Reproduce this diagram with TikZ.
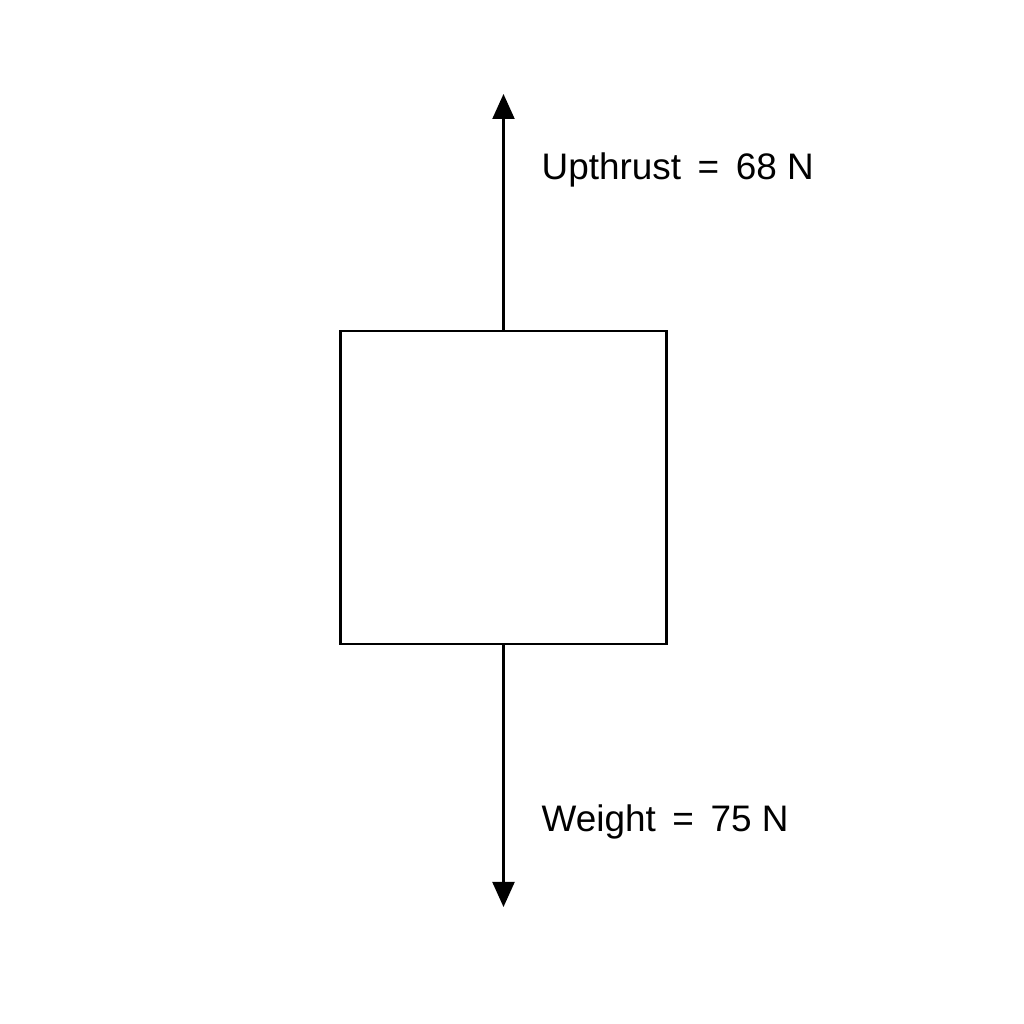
\documentclass[tikz,border=0pt]{standalone}
\usepackage{fontspec}
\setmainfont{Liberation Sans}
\usetikzlibrary{arrows.meta}

\begin{document}
\begin{tikzpicture}[force/.style={line width=0.6pt,-{Triangle[width=2.2mm,length=2.5mm]}},
    lbl/.style={anchor=base west,inner sep=0pt,font=\fontsize{10.5}{12}\selectfont}]
          \useasboundingbox (0,0) rectangle (10.24,10.24);

          \node[draw,line width=0.6pt,minimum width=3.26cm,minimum height=3.13cm,inner sep=0pt] (block) at (5.035,5.365) {};

          \coordinate (uptip) at (5.035,9.30);
          \coordinate (downtip) at (5.035,1.17);
          \draw[force] (block.north) -- (uptip);
          \draw[force] (block.south) -- (downtip);

          \node[lbl] (upthrust) at (5.41,8.44) {Upthrust\hspace{0.45em}=\hspace{0.45em}68 N};
          \node[lbl] (weight) at (5.41,1.92) {Weight\hspace{0.45em}=\hspace{0.45em}75 N};
        \end{tikzpicture}
\end{document}
